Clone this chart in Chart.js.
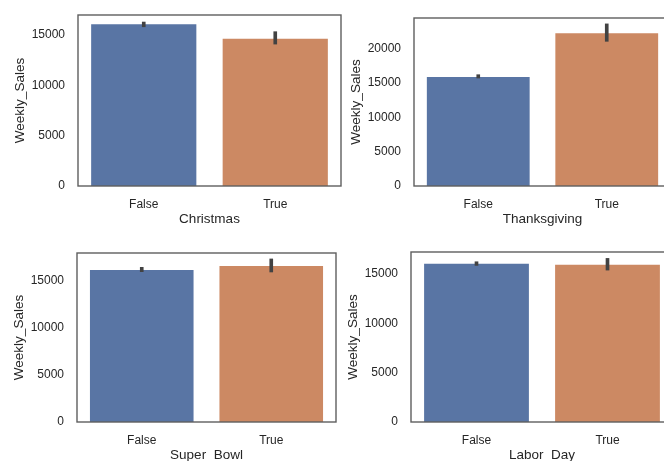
<!DOCTYPE html>
<html>
<head>
<meta charset="utf-8">
<script src="https://cdn.jsdelivr.net/npm/chart.js@4"></script>
<style>
  html, body { margin: 0; padding: 0; background: #fff; }
  body { width: 664px; height: 461px; overflow: hidden; position: relative; }
  canvas { position: absolute; }
</style>
</head>
<body>
<canvas id="chartChristmas"></canvas>
<canvas id="chartThanksgiving"></canvas>
<canvas id="chartSuperBowl"></canvas>
<canvas id="chartLaborDay"></canvas>
<script>
const categories = ["False", "True"];
const yTicks = [0, 5000, 10000, 15000, 20000];

const christmasSales = [16074, 14640];
const christmasErr = [[15830, 16300], [14110, 15340]];

const thanksgivingSales = [15892, 22266];
const thanksgivingErr = [[15750, 16230], [21100, 23640]];

const superBowlSales = [16100, 16525];
const superBowlErr = [[15920, 16380], [15890, 17270]];

const laborDaySales = [16057, 15955];
const laborDayErr = [[15890, 16260], [15415, 16600]];

const panels = [
  { id: "chartChristmas", label: "Christmas", sales: christmasSales, err: christmasErr, yMax: 17000,
    box: { left: 78, top: 15, right: 341, bottom: 186 } },
  { id: "chartThanksgiving", label: "Thanksgiving", sales: thanksgivingSales, err: thanksgivingErr, yMax: 24500,
    box: { left: 414, top: 18, right: 671, bottom: 186 } },
  { id: "chartSuperBowl", label: "Super_Bowl", sales: superBowlSales, err: superBowlErr, yMax: 17900,
    box: { left: 77, top: 253, right: 336, bottom: 422 } },
  { id: "chartLaborDay", label: "Labor_Day", sales: laborDaySales, err: laborDayErr, yMax: 17250,
    box: { left: 411, top: 252, right: 673, bottom: 422 } },
];

const Y_AXIS_W = 78;
const X_AXIS_H = 44;
const PAD_TOP = 4;
const PAD_RIGHT = 2;

Chart.defaults.font.family = "'Liberation Sans', Arial, sans-serif";
Chart.defaults.color = "#262626";

// box around the plot area (matplotlib spines)
const framePlugin = {
  id: "frame",
  afterDraw(chart) {
    const { ctx, chartArea: a } = chart;
    ctx.save();
    ctx.strokeStyle = "#5e5e5e";
    ctx.lineWidth = 1.4;
    ctx.strokeRect(a.left, a.top, a.right - a.left, a.bottom - a.top);
    ctx.restore();
  },
};

function renderPanel(p) {
  const canvas = document.getElementById(p.id);
  const w = Y_AXIS_W + (p.box.right - p.box.left) + PAD_RIGHT;
  const h = PAD_TOP + (p.box.bottom - p.box.top) + X_AXIS_H;
  canvas.width = w;
  canvas.height = h;
  canvas.style.width = w + "px";
  canvas.style.height = h + "px";
  canvas.style.left = (p.box.left - Y_AXIS_W) + "px";
  canvas.style.top = (p.box.top - PAD_TOP) + "px";

  new Chart(canvas, {
    type: "bar",
    data: {
      labels: categories,
      datasets: [
        {
          data: p.err,
          backgroundColor: "#424242",
          barThickness: 3,
          grouped: false,
          order: 0,
        },
        {
          data: p.sales,
          backgroundColor: ["#5975a4", "#cc8963"],
          barPercentage: 0.8,
          categoryPercentage: 1.0,
          grouped: false,
          order: 1,
        },
      ],
    },
    options: {
      responsive: false,
      animation: false,
      layout: { padding: { top: PAD_TOP, right: PAD_RIGHT, left: 0, bottom: 0 } },
      plugins: {
        legend: { display: false },
        tooltip: { enabled: false },
      },
      scales: {
        x: {
          offset: true,
          grid: { display: false, drawTicks: false },
          border: { display: false },
          ticks: { padding: 11, font: { size: 12 } },
          title: { display: true, text: p.label, font: { size: 13.5 }, padding: { top: 0, bottom: 3 } },
          afterFit(scale) {
            scale.height = X_AXIS_H;
            scale.paddingLeft = 0;
            scale.paddingRight = 0;
          },
        },
        y: {
          min: 0,
          max: p.yMax,
          grid: { display: false, drawTicks: false },
          border: { display: false },
          afterBuildTicks(scale) {
            scale.ticks = yTicks.filter((v) => v <= p.yMax).map((v) => ({ value: v }));
          },
          ticks: {
            padding: 13,
            font: { size: 12 },
            callback: (v) => String(v),
          },
          title: { display: true, text: "Weekly_Sales", font: { size: 13.5 }, padding: { top: 12, bottom: 0 } },
          afterFit(scale) {
            scale.width = Y_AXIS_W;
            scale.paddingTop = 0;
            scale.paddingBottom = 0;
          },
        },
      },
    },
    plugins: [framePlugin],
  });
}

panels.forEach(renderPanel);
</script>
</body>
</html>
